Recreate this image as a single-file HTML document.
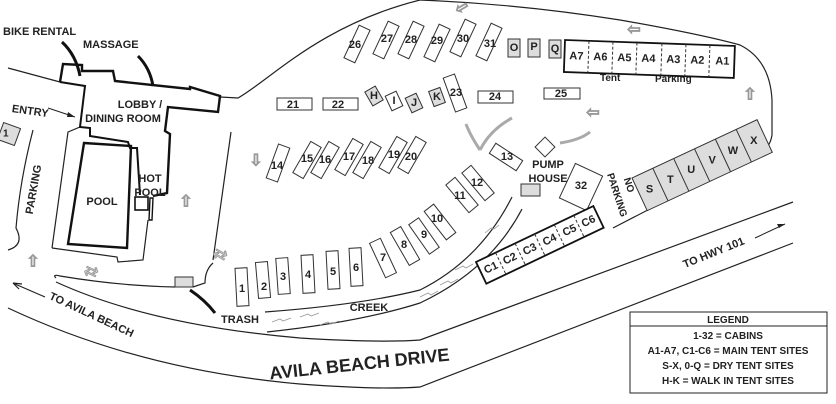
<!DOCTYPE html>
<html><head><meta charset="utf-8"><style>
html,body{margin:0;padding:0;background:#fff}
svg{display:block}
text{font-family:"Liberation Sans",Arial,sans-serif;font-weight:bold;fill:#222}
.c{fill:#fff;stroke:#333;stroke-width:1}
.g{fill:#ddd;stroke:#333;stroke-width:1}
.n{font-size:11px;text-anchor:middle;dominant-baseline:central}
.ar{font-size:16px;fill:#fff;stroke:#999;stroke-width:1;font-weight:normal;text-anchor:middle;dominant-baseline:central}
</style></head><body>
<svg width="836" height="404" viewBox="0 0 836 404" xmlns="http://www.w3.org/2000/svg">
<g fill="none" stroke="#222" stroke-width="1.2">
<path d="M56,282 Q150,325 300,338 Q380,343 420,340 L793,202"/>
<path d="M8,308 Q140,370 300,384 Q380,390 420,387 L793,243"/>
<path d="M56,278 Q52,274 60,276 Q120,286 175,287"/>
<path d="M45,297 L15,284"/>
<path d="M13,283 l9,1 M13,283 l6,6"/>
<path d="M265,312 Q360,305 420,290 Q480,260 512,197"/>
<path d="M267,332 Q360,322 420,303 Q490,270 522,209"/>
<path d="M8,68 L60,82"/>
<path d="M220,97 L238,98 C270,80 320,25 420,0"/>
<path d="M420,0 Q520,4 620,20 Q700,34 740,45 Q770,60 772,100 L772,135 Q770,148 760,152"/>
<path d="M613,228 L760,152"/>
<path d="M231,132 L213,260"/>
<path d="M213,263 Q205,270 205,283 L193,287"/>
<path d="M33,130 Q20,180 16,228 Q25,245 8,250"/>
<path d="M52,248 L68,132 L80,127"/>
<path d="M52,248 L117,257 L118,262 L143,260 L148,220"/>
</g>
<g fill="none" stroke="#999" stroke-width="0.8">
<path d="M272,322 l8,-3 l3,2 l8,-3 M300,317 l8,-3 l3,2 l8,-3 M320,325 l8,-3 l3,2 l8,-3 M420,297 l8,-4 l3,2 l7,-4 M440,285 l8,-4 l3,2 l7,-4 M455,270 l8,-4 l3,2 l7,-4 M485,233 l6,-5 l3,1 l5,-4"/>
</g>
<path d="M60,82 L63,64 L82,65 L82,71 L113,71 L115,81 L190,89 L190,87 L220,96 L218,112 L168,107 L165,131 L170,134 L167,193 L153,196" fill="none" stroke="#111" stroke-width="2.4"/>
<path d="M60,82 L85,86 L80,127 L90,128 L90,136 L128,142 L130,148 L137,148 L140,195" fill="none" stroke="#111" stroke-width="2"/>
<rect x="135" y="197" width="13" height="13" fill="#fff" stroke="#111" stroke-width="1.6"/>
<path d="M150,198 L153,198 L152,220 L149,220 Z" fill="#fff" stroke="#111" stroke-width="1.4"/>
<polygon points="84,143 131,146 127,248 68,244" fill="none" stroke="#111" stroke-width="2.4"/>
<path d="M62,42 Q76,55 80,76" fill="none" stroke="#111" stroke-width="3"/>
<path d="M138,56 Q150,68 153,86" fill="none" stroke="#111" stroke-width="3"/>
<path d="M190,290 Q205,300 215,313" fill="none" stroke="#111" stroke-width="3"/>
<path d="M48,108 L75,117" stroke="#222" stroke-width="1"/><path d="M75,117 l-7,-5 l-1,5z" fill="#222"/>
<rect x="175" y="277" width="18" height="10" class="g"/>
<rect x="0" y="125" width="18" height="18" class="g" transform="rotate(20 9 134)"/>
<text x="3" y="134" font-size="10" dominant-baseline="central">1</text>
<text x="3" y="35" font-size="11">BIKE RENTAL</text>
<text x="83" y="48" font-size="11">MASSAGE</text>
<text x="12" y="112" font-size="11" transform="rotate(8 12 108)">ENTRY</text>
<text x="140" y="108" font-size="11" text-anchor="middle">LOBBY /</text>
<text x="123" y="122" font-size="11" text-anchor="middle">DINING ROOM</text>
<text x="102" y="205" font-size="11" text-anchor="middle">POOL</text>
<text x="150" y="182" font-size="11" text-anchor="middle">HOT</text>
<text x="150" y="196" font-size="11" text-anchor="middle">POOL</text>
<text x="37" y="190" font-size="11" text-anchor="middle" transform="rotate(-80 37 190)">PARKING</text>
<text x="240" y="323" font-size="11" text-anchor="middle">TRASH</text>
<text x="369" y="311" font-size="11" text-anchor="middle">CREEK</text>
<text x="90" y="318" font-size="11" text-anchor="middle" transform="rotate(25 90 318)">TO AVILA BEACH</text>
<text x="360" y="370" font-size="18" text-anchor="middle" transform="rotate(-6 360 370)">AVILA  BEACH  DRIVE</text>
<text x="715" y="256" font-size="11" text-anchor="middle" transform="rotate(-22 715 256)">TO HWY 101</text>
<path d="M755,238 L785,224" stroke="#222"/><path d="M785,224 l-8,0 l2,4z" fill="#222"/>
<text x="548" y="168" font-size="11" text-anchor="middle">PUMP</text>
<text x="548" y="182" font-size="11" text-anchor="middle">HOUSE</text>
<text x="626" y="186" font-size="10" text-anchor="middle" transform="rotate(72 626 186)">NO</text>
<text x="614" y="196" font-size="10" text-anchor="middle" transform="rotate(72 614 196)">PARKING</text>
<text x="600" y="81" font-size="10" style="font-weight:600">Tent</text>
<text x="655" y="82" font-size="10" style="font-weight:600">Parking</text>
<g>
<rect class="c" x="-6" y="-19" width="12" height="38" transform="translate(242,287) rotate(-3)"/>
<rect class="c" x="-6" y="-18" width="12" height="36" transform="translate(263,280) rotate(-5)"/>
<rect class="c" x="-6" y="-18" width="12" height="36" transform="translate(283,276) rotate(-4)"/>
<rect class="c" x="-6" y="-19" width="12" height="38" transform="translate(308,274) rotate(-3)"/>
<rect class="c" x="-6" y="-19" width="12" height="38" transform="translate(333,270) rotate(-3)"/>
<rect class="c" x="-6" y="-19" width="12" height="38" transform="translate(356,267) rotate(-3)"/>
<rect class="c" x="-6" y="-19" width="12" height="38" transform="translate(383,258) rotate(-25)"/>
<rect class="c" x="-6" y="-19" width="12" height="38" transform="translate(405,246) rotate(-30)"/>
<rect class="c" x="-6" y="-18" width="12" height="36" transform="translate(424,236) rotate(-35)"/>
<rect class="c" x="-6" y="-18" width="12" height="36" transform="translate(440,222) rotate(-38)"/>
<rect class="c" x="-6" y="-18" width="12" height="36" transform="translate(462,195) rotate(-40)"/>
<rect class="c" x="-6" y="-18" width="12" height="36" transform="translate(478,183) rotate(-40)"/>
<rect class="c" x="-6" y="-16" width="12" height="32" transform="translate(506,157) rotate(-57)"/>
<rect class="c" x="-6" y="-18" width="12" height="36" transform="translate(278,163) rotate(20)"/>
<rect class="c" x="-6" y="-18" width="12" height="36" transform="translate(307,160) rotate(30)"/>
<rect class="c" x="-6" y="-18" width="12" height="36" transform="translate(325,160) rotate(30)"/>
<rect class="c" x="-6" y="-18" width="12" height="36" transform="translate(349,157) rotate(30)"/>
<rect class="c" x="-6" y="-18" width="12" height="36" transform="translate(367,160) rotate(30)"/>
<rect class="c" x="-6" y="-18" width="12" height="36" transform="translate(393,155) rotate(30)"/>
<rect class="c" x="-6" y="-18" width="12" height="36" transform="translate(412,155) rotate(30)"/>
<rect class="c" x="-6" y="-18" width="12" height="36" transform="translate(357,44) rotate(25)"/>
<rect class="c" x="-6" y="-18" width="12" height="36" transform="translate(386,40) rotate(25)"/>
<rect class="c" x="-6" y="-18" width="12" height="36" transform="translate(411,40) rotate(25)"/>
<rect class="c" x="-6" y="-18" width="12" height="36" transform="translate(437,43) rotate(25)"/>
<rect class="c" x="-6" y="-18" width="12" height="36" transform="translate(463,38) rotate(25)"/>
<rect class="c" x="-6" y="-18" width="12" height="36" transform="translate(489,42) rotate(25)"/>
<rect class="c" x="-6" y="-18" width="12" height="36" transform="translate(455,93) rotate(-20)"/>
<rect class="c" x="277" y="98" width="35" height="12"/>
<rect class="c" x="323" y="98" width="35" height="12"/>
<rect class="c" x="478" y="91" width="35" height="12"/>
<rect class="c" x="544" y="88" width="36" height="11"/>
<rect class="g" x="-6" y="-8" width="12" height="16" transform="translate(374,96) rotate(-30)"/>
<rect class="c" x="-6" y="-8" width="12" height="16" transform="translate(394,101) rotate(-25)"/>
<rect class="g" x="-6" y="-8" width="12" height="16" transform="translate(414,103) rotate(-25)"/>
<rect class="g" x="-6" y="-8" width="12" height="16" transform="translate(437,97) rotate(-20)"/>
<rect class="g" x="508" y="39" width="12" height="18"/>
<rect class="g" x="528" y="39" width="12" height="18"/>
<rect class="g" x="549" y="40" width="12" height="18"/>
<rect class="c" x="-7" y="-7" width="14" height="14" transform="translate(545,147) rotate(45)"/>
<rect class="g" x="521" y="184" width="19" height="12"/>
<rect class="c" x="-15" y="-19" width="30" height="38" transform="translate(581,187) rotate(25)"/>
</g>
<g>
<text class="n" x="242" y="289">1</text><text class="n" x="264" y="287">2</text><text class="n" x="283" y="277">3</text><text class="n" x="308" y="275">4</text><text class="n" x="333" y="272">5</text><text class="n" x="356" y="268">6</text><text class="n" x="383" y="258">7</text><text class="n" x="404" y="245">8</text><text class="n" x="424" y="235">9</text><text class="n" x="437" y="219">10</text><text class="n" x="460" y="196">11</text><text class="n" x="477" y="183">12</text><text class="n" x="507" y="157">13</text>
<text class="n" x="277" y="166">14</text><text class="n" x="307" y="159">15</text><text class="n" x="325" y="160">16</text><text class="n" x="349" y="157">17</text><text class="n" x="368" y="161">18</text><text class="n" x="394" y="155">19</text><text class="n" x="411" y="157">20</text>
<text class="n" x="355" y="45">26</text><text class="n" x="387" y="39">27</text><text class="n" x="411" y="40">28</text><text class="n" x="437" y="41">29</text><text class="n" x="463" y="39">30</text><text class="n" x="490" y="44">31</text>
<text class="n" x="293" y="105">21</text><text class="n" x="338" y="105">22</text><text class="n" x="495" y="97">24</text><text class="n" x="561" y="94">25</text><text class="n" x="456" y="93">23</text>
<text class="n" x="374" y="96">H</text><text class="n" x="394" y="101">I</text><text class="n" x="414" y="103">J</text><text class="n" x="437" y="97">K</text>
<text class="n" x="514" y="48">O</text><text class="n" x="534" y="47">P</text><text class="n" x="555" y="49">Q</text>
<text class="n" x="581" y="186">32</text>
</g>
<g transform="translate(565,40) rotate(2)">
<rect x="0" y="0" width="170" height="32" fill="#fff" stroke="#111" stroke-width="1.8"/>
<g stroke="#333" stroke-dasharray="3,2"><path d="M24,0V32M48,0V32M72,0V32M97,0V32M121,0V32M145,0V32"/></g>
<g><text class="n" x="12" y="16">A7</text><text class="n" x="36" y="16">A6</text><text class="n" x="60" y="16">A5</text><text class="n" x="84" y="16">A4</text><text class="n" x="109" y="16">A3</text><text class="n" x="133" y="16">A2</text><text class="n" x="158" y="16">A1</text></g>
</g>
<g transform="translate(476,262) rotate(-25.5)">
<rect x="0" y="0" width="130" height="24" fill="#fff" stroke="#111" stroke-width="1.8"/>
<g stroke="#333" stroke-dasharray="3,2"><path d="M21.7,0V24M43.3,0V24M65,0V24M86.7,0V24M108.3,0V24"/></g>
<g><text class="n" x="11" y="12">C1</text><text class="n" x="32" y="12">C2</text><text class="n" x="54" y="12">C3</text><text class="n" x="76" y="12">C4</text><text class="n" x="98" y="12">C5</text><text class="n" x="119" y="12">C6</text></g>
</g>
<g transform="translate(632,178) rotate(-25)">
<rect x="0" y="0" width="138" height="36" fill="#ddd" stroke="#333"/>
<path d="M23,0V36M46,0V36M69,0V36M92,0V36M115,0V36" stroke="#333"/>
<g><text class="n" x="11" y="18" transform="rotate(25 11 18)">S</text><text class="n" x="34" y="18" transform="rotate(25 34 18)">T</text><text class="n" x="57" y="18" transform="rotate(25 57 18)">U</text><text class="n" x="80" y="18" transform="rotate(25 80 18)">V</text><text class="n" x="103" y="18" transform="rotate(25 103 18)">W</text><text class="n" x="126" y="18" transform="rotate(25 126 18)">X</text></g>
</g>
<text class="ar" x="462" y="8" transform="rotate(-30 462 8)">⇦</text>
<text class="ar" x="634" y="30">⇦</text>
<text class="ar" x="593" y="113">⇦</text>
<text class="ar" x="750" y="95">⇧</text>
<text class="ar" x="256" y="161">⇩</text>
<text class="ar" x="186" y="202">⇧</text>
<text class="ar" x="33" y="262">⇧</text>
<text class="ar" x="91" y="272" transform="rotate(25 91 272)">⇄</text>
<text class="ar" x="220" y="255" transform="rotate(30 220 255)">⇄</text>
<path d="M480,150 Q470,135 466,124 M480,150 Q490,130 512,118" fill="none" stroke="#aaa" stroke-width="3"/>
<path d="M560,143 Q580,140 590,132" fill="none" stroke="#aaa" stroke-width="3"/>
<rect x="630" y="312" width="197" height="81" fill="#fff" stroke="#222"/>
<line x1="630" y1="326" x2="827" y2="326" stroke="#222"/>
<g font-size="10" text-anchor="middle"><text x="728" y="323">LEGEND</text><text x="728" y="339">1-32 = CABINS</text><text x="728" y="354">A1-A7, C1-C6 = MAIN TENT SITES</text><text x="728" y="369">S-X, 0-Q = DRY TENT SITES</text><text x="728" y="384">H-K = WALK IN TENT SITES</text></g>
</svg>
</body></html>
